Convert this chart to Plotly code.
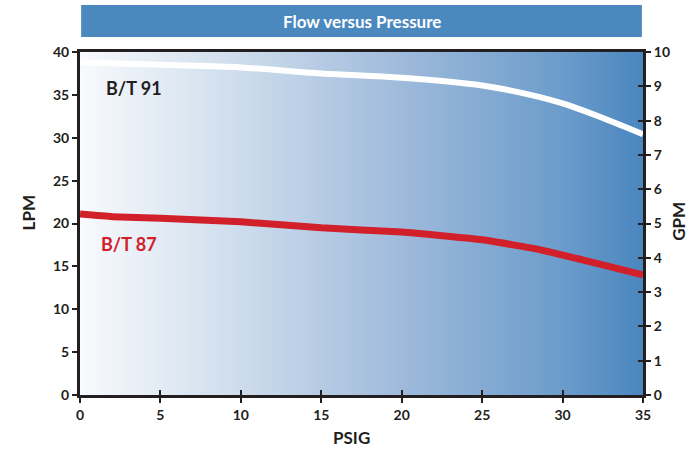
import numpy as np
import plotly.graph_objects as go

# Data
psig_91 = [0, 5, 10, 15, 20, 25, 28, 30, 32.5, 35]
lpm_91 = [38.8, 38.5, 38.2, 37.5, 37.0, 36.1, 35.0, 34.0, 32.3, 30.4]
psig_87 = [0, 2, 5, 10, 15, 20, 25, 28.7, 35]
lpm_87 = [21.1, 20.8, 20.6, 20.2, 19.5, 19.0, 18.1, 16.9, 14.0]
x_ticks = [0, 5, 10, 15, 20, 25, 30, 35]
lpm_ticks = [0, 5, 10, 15, 20, 25, 30, 35, 40]
gpm_ticks = [0, 1, 2, 3, 4, 5, 6, 7, 8, 9, 10]

FONT = "Lato"
DARK = "#231f20"
BLUE = "#4a88be"
RED = "#d2202b"

grad_x = np.linspace(0, 35, 300)

fig = go.Figure()
fig.add_trace(go.Heatmap(
    x=grad_x, y=[0, 40], z=[grad_x, grad_x],
    colorscale=[[0, "#f8fafd"], [0.286, "#cddcec"], [0.571, "#9fbadb"],
                [0.857, "#6b9ccb"], [1, "#4a86bf"]],
    showscale=False, hoverinfo="skip", zsmooth="best"))
fig.add_trace(go.Scatter(x=psig_91, y=lpm_91, mode="lines",
                         line=dict(color="white", width=6, shape="spline", smoothing=1.0),
                         hoverinfo="skip"))
fig.add_trace(go.Scatter(x=psig_87, y=lpm_87, mode="lines",
                         line=dict(color=RED, width=7, shape="spline", smoothing=0.4),
                         hoverinfo="skip"))
# invisible traces to activate the right axis and the tick-cross helper axes
fig.add_trace(go.Scatter(x=[0], y=[0], yaxis="y2", mode="markers",
                         marker=dict(opacity=0), hoverinfo="skip", showlegend=False))
fig.add_trace(go.Scatter(x=[0], y=[0], xaxis="x2", yaxis="y3", mode="markers",
                         marker=dict(opacity=0), hoverinfo="skip", showlegend=False))

tickfont = dict(family=FONT, size=14, color=DARK, weight="bold")
titlefont = dict(family=FONT, size=17, color=DARK, weight="bold")
tk = dict(ticklen=5, tickwidth=2, tickcolor=DARK, showgrid=False, zeroline=False,
          automargin=False)

fig.update_layout(
    width=694, height=451,
    margin=dict(l=80, r=51, t=52, b=56, autoexpand=False),
    paper_bgcolor="white", plot_bgcolor="white",
    showlegend=False,
    xaxis=dict(range=[0, 35], tickvals=x_ticks,
               showline=True, linecolor=DARK, linewidth=3, mirror=True,
               ticks="outside", tickfont=tickfont, **tk),
    xaxis2=dict(range=[0, 35], tickvals=x_ticks, overlaying="x", side="bottom",
                showline=False, ticks="inside", showticklabels=False, **tk),
    yaxis=dict(range=[0, 40], tickvals=lpm_ticks,
               showline=True, linecolor=DARK, linewidth=3,
               ticks="outside", tickfont=tickfont, **tk),
    yaxis2=dict(range=[0, 10], tickvals=gpm_ticks, overlaying="y", side="right",
                showline=True, linecolor=DARK, linewidth=3,
                ticks="outside", tickfont=tickfont, **tk),
    yaxis3=dict(range=[0, 10], tickvals=gpm_ticks, overlaying="y", side="right",
                showline=False, ticks="inside", showticklabels=False, **tk),
    shapes=[dict(type="rect", xref="paper", yref="paper",
                 x0=0.002, x1=0.998, y0=1.044, y1=1.137,
                 fillcolor=BLUE, line=dict(width=0), layer="below")],
    annotations=[
        dict(text="Flow versus Pressure", xref="paper", yref="paper",
             x=0.5, y=1.09, showarrow=False, yanchor="middle",
             font=dict(family=FONT, size=17, color="white", weight="bold")),
        dict(text="B/T 91", x=1.5, y=35.8, xanchor="left", showarrow=False,
             font=dict(family=FONT, size=18, color=DARK, weight="bold")),
        dict(text="B/T 87", x=1.2, y=17.6, xanchor="left", showarrow=False,
             font=dict(family=FONT, size=18, color=RED, weight="bold")),
        dict(text="PSIG", xref="paper", yref="paper", x=0.483, y=-0.125,
             yanchor="middle", showarrow=False, font=titlefont),
        dict(text="LPM", xref="paper", yref="paper", x=-0.092, y=0.53,
             xanchor="center", yanchor="middle", textangle=-90,
             showarrow=False, font=titlefont),
        dict(text="GPM", xref="paper", yref="paper", x=1.064, y=0.505,
             xanchor="center", yanchor="middle", textangle=-90,
             showarrow=False, font=titlefont),
    ],
)

fig.write_html("out.html", config={"displayModeBar": False},
               post_script="document.body.style.margin='0';")
